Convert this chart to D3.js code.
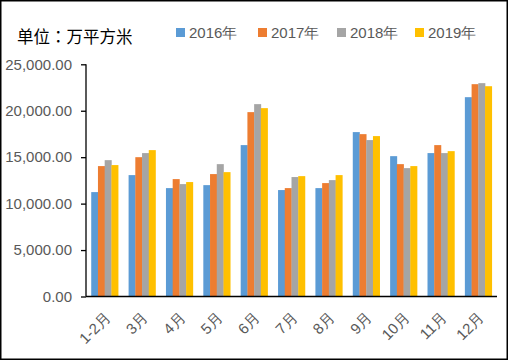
<!DOCTYPE html>
<html><head><meta charset="utf-8">
<script src="https://cdn.jsdelivr.net/npm/d3@7"></script>
<style>body{margin:0;background:#fff}svg{display:block}</style>
</head><body>
<script>
const categories = ["1-2月","3月","4月","5月","6月","7月","8月","9月","10月","11月","12月"];
const seriesNames = ["2016年","2017年","2018年","2019年"];
const s2016 = [11240,13070,11670,11990,16300,11460,11670,17700,15110,15440,21460];
const s2017 = [14040,15000,12640,13180,19850,11670,12210,17480,14250,16300,22860];
const s2018 = [14680,15440,12100,14250,20710,12860,12530,16840,13820,15440,22970];
const s2019 = [14150,15760,12320,13390,20280,12960,13070,17270,14040,15650,22640];
const yTicks = [0,5000,10000,15000,20000,25000];
const unitLabel = "单位：万平方米";
const colors = ["#5B9BD5","#ED7D31","#A5A5A5","#FFC000"];
const series = [s2016,s2017,s2018,s2019];

(function(){
const W=508,H=360;
const svg=d3.select("body").append("svg").attr("width",W).attr("height",H);
svg.append("rect").attr("x",0.75).attr("y",0.75).attr("width",W-1.5).attr("height",H-1.5)
  .attr("fill","#fff").attr("stroke","#000").attr("stroke-width",1.5);

const pL=86,pR=497,pT=64.3,pB=296.5;
const x=d3.scaleBand().domain(categories).range([pL,pR]).paddingInner(0.28).paddingOuter(0.14);
const xs=d3.scaleBand().domain(seriesNames).range([0,x.bandwidth()]);
const y=d3.scaleLinear().domain([0,25000]).range([pB,pT]);
const font="'Liberation Sans', Arial, sans-serif";

const g=svg.append("g");
categories.forEach((c,i)=>{
  seriesNames.forEach((s,j)=>{
    g.append("rect").attr("x",x(c)+xs(s)).attr("width",xs.bandwidth()+0.3)
      .attr("y",y(series[j][i])).attr("height",y(0)-y(series[j][i])).attr("fill",colors[j]);
  });
});

const yAxis=d3.axisLeft(y).tickValues(yTicks).tickSize(5).tickPadding(9)
  .tickFormat(d=>d3.format(",.2f")(d));
const ya=svg.append("g").attr("transform",`translate(${pL},0)`).call(yAxis);
ya.select(".domain").attr("stroke","#000").attr("stroke-width",1.3).attr("d",`M0,${pT}V${pB}`);
ya.selectAll(".tick line").attr("stroke","#000").attr("stroke-width",1.3);
ya.selectAll(".tick text").attr("fill","#595959").style("font-family",font).style("font-size","15px");

const xAxis=d3.axisBottom(x).tickSize(0).tickPadding(0);
const xa=svg.append("g").attr("transform",`translate(0,${pB})`).call(xAxis);
xa.select(".domain").attr("stroke","#000").attr("stroke-width",1.5).attr("d",`M${pL},0H${pR}`);
xa.selectAll(".tick text").attr("fill","#595959").style("font-family",font).style("font-size","15px")
  .attr("text-anchor","end").attr("dy","0.35em").attr("y",0)
  .attr("transform","translate(3,18.5) rotate(-45)");

svg.append("text").attr("x",17).attr("y",43).text(unitLabel)
  .style("font-family","'Noto Sans CJK TC', sans-serif").style("font-size","16.5px").attr("fill","#000");

const lx=[176,258,337,415];
seriesNames.forEach((s,j)=>{
  svg.append("rect").attr("x",lx[j]).attr("y",28).attr("width",9).attr("height",9).attr("fill",colors[j]);
  svg.append("text").attr("x",lx[j]+13).attr("y",37.5).text(s)
    .style("font-family",font).style("font-size","15px").attr("fill","#595959");
});
})();
</script>
</body></html>
